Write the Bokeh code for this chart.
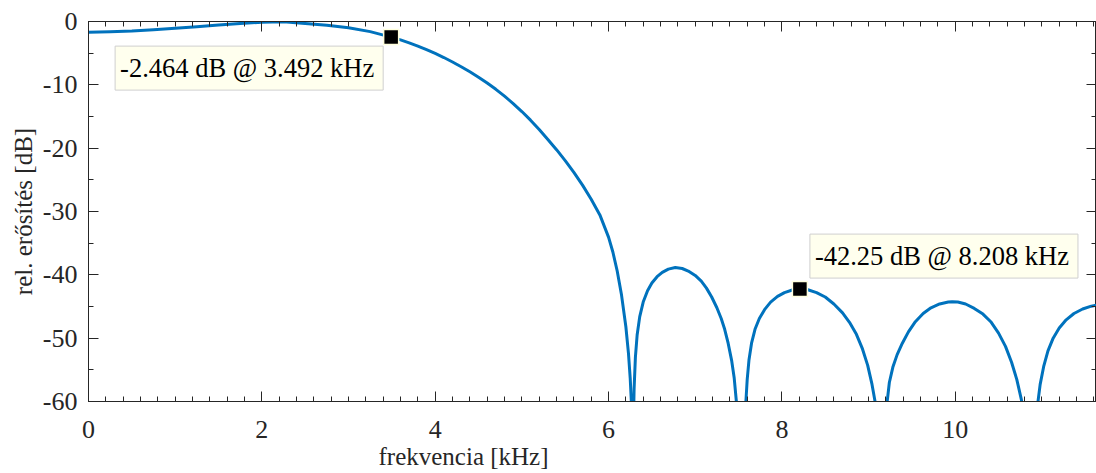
from bokeh.plotting import figure
from bokeh.models import (LinearAxis, SingleIntervalTicker, Label, Title,
                          ColumnDataSource, Range1d, PrintfTickFormatter,
                          CustomJSTickFormatter)
from bokeh.embed import file_html
from bokeh.resources import INLINE

# frequency [kHz] and relative gain [dB]
pass_f = [0.0, 0.25, 0.5, 0.75, 1.0, 1.25, 1.5, 1.75, 2.0, 2.25, 2.5, 2.75,
          3.0, 3.25, 3.492]
pass_db = [-1.70, -1.62, -1.50, -1.30, -1.08, -0.82, -0.55, -0.30, -0.12,
           -0.05, -0.30, -0.60, -1.00, -1.60, -2.464]

trans_f = [3.6, 3.7, 3.8, 3.9, 4.0, 4.1, 4.2, 4.3, 4.4, 4.5, 4.6, 4.7, 4.8,
           4.9, 5.0, 5.1, 5.2, 5.3, 5.4, 5.5, 5.6, 5.7, 5.8, 5.9, 6.0, 6.05,
           6.1, 6.15, 6.2, 6.23, 6.25, 6.265, 6.275]
trans_db = [-2.91, -3.37, -3.88, -4.44, -5.04, -5.69, -6.39, -7.14, -7.94,
            -8.79, -9.71, -10.71, -11.79, -12.96, -14.22, -15.58, -17.05,
            -18.64, -20.24, -21.96, -23.82, -25.84, -28.06, -30.54, -34.04,
            -36.40, -39.40, -43.20, -48.20, -52.40, -56.30, -60.50, -75.00]

lobe1_f = [6.285, 6.295, 6.31, 6.33, 6.36, 6.40, 6.45, 6.50, 6.56, 6.62,
           6.69, 6.77, 6.85, 6.92, 7.0, 7.07, 7.13, 7.19, 7.25, 7.30, 7.34,
           7.38, 7.42, 7.45, 7.475, 7.53]
lobe1_db = [-65.0, -58.0, -53.0, -49.5, -46.6, -44.3, -42.5, -41.3, -40.3,
            -39.6, -39.1, -38.85, -39.0, -39.4, -40.1, -41.0, -42.1, -43.5,
            -45.2, -46.9, -48.6, -50.8, -53.5, -56.3, -60.0, -80.0]

lobe2_f = [7.585, 7.60, 7.62, 7.65, 7.69, 7.74, 7.80, 7.87, 7.95, 8.03, 8.12,
           8.208, 8.30, 8.40, 8.50, 8.60, 8.70, 8.78, 8.86, 8.93, 8.99, 9.04,
           9.075, 9.145]
lobe2_db = [-60.0, -56.5, -53.5, -50.8, -48.6, -46.9, -45.5, -44.3, -43.4,
            -42.8, -42.4, -42.25, -42.35, -42.8, -43.5, -44.6, -46.0, -47.5,
            -49.4, -51.7, -54.3, -57.3, -60.0, -80.0]

lobe3_f = [9.215, 9.24, 9.28, 9.33, 9.39, 9.46, 9.54, 9.63, 9.72, 9.82, 9.92,
           9.965, 10.03, 10.12, 10.22, 10.32, 10.41, 10.50, 10.58, 10.65,
           10.71, 10.76, 10.775, 10.865]
lobe3_db = [-60.0, -57.0, -54.6, -52.6, -50.8, -49.0, -47.4, -46.1, -45.2,
            -44.6, -44.3, -44.25, -44.3, -44.6, -45.3, -46.2, -47.4, -49.2,
            -51.3, -53.8, -56.5, -59.5, -60.5, -80.0]

lobe4_f = [10.955, 10.98, 11.02, 11.07, 11.13, 11.20, 11.28, 11.37, 11.47,
           11.57, 11.67, 11.75]
lobe4_db = [-60.0, -57.3, -54.5, -52.0, -50.0, -48.4, -47.1, -46.1, -45.4,
            -44.95, -44.7, -44.6]

freq_khz = pass_f + trans_f + lobe1_f + lobe2_f + lobe3_f + lobe4_f
gain_db = pass_db + trans_db + lobe1_db + lobe2_db + lobe3_db + lobe4_db

# data tips
tip_freq = [3.492, 8.208]
tip_gain = [-2.464, -42.25]
tip_text = ["-2.464 dB @ 3.492 kHz", "-42.25 dB @ 8.208 kHz"]

x_ticks_interval = 2
y_ticks_interval = 10

FONT = "Liberation Serif"
AX = "#262626"
BLUE = "#0072BD"

p = figure(width=1096, height=473, output_backend="svg",
           toolbar_location=None,
           x_range=Range1d(0, 11.63), y_range=Range1d(-60, 0),
           min_border_left=88, min_border_top=21, min_border_bottom=72,
           min_border_right=0, x_axis_location=None, y_axis_location=None)
p.xgrid.visible = False
p.ygrid.visible = False
p.outline_line_color = AX
p.outline_line_width = 1
p.background_fill_color = "white"
p.border_fill_color = "white"

blank = CustomJSTickFormatter(code="return '';")


def style_axis(ax, ticker, labels=True, standoff=10):
    ax.ticker = ticker
    ax.axis_line_color = AX
    ax.major_tick_line_color = AX
    ax.minor_tick_line_color = AX
    ax.major_tick_in = 10
    ax.major_tick_out = 0
    ax.minor_tick_in = 5
    ax.minor_tick_out = 0
    ax.major_label_text_font = FONT
    ax.major_label_text_font_size = "26px"
    ax.major_label_text_color = AX
    ax.major_label_standoff = standoff
    if labels:
        ax.formatter = PrintfTickFormatter(format="%d")
    else:
        ax.formatter = blank
        ax.major_label_standoff = 0


xb = LinearAxis()
style_axis(xb, SingleIntervalTicker(interval=x_ticks_interval, num_minor_ticks=10), standoff=19)
p.add_layout(xb, "below")
xt = LinearAxis()
style_axis(xt, SingleIntervalTicker(interval=x_ticks_interval, num_minor_ticks=10), labels=False)
p.add_layout(xt, "above")

yl = LinearAxis(axis_label="rel. erősítés [dB]")
style_axis(yl, SingleIntervalTicker(interval=y_ticks_interval, num_minor_ticks=2), standoff=11)
yl.axis_label_text_font = FONT
yl.axis_label_text_font_size = "25px"
yl.axis_label_text_font_style = "normal"
yl.axis_label_text_color = AX
yl.axis_label_standoff = 3
p.add_layout(yl, "left")
yr = LinearAxis()
style_axis(yr, SingleIntervalTicker(interval=y_ticks_interval, num_minor_ticks=2), labels=False)
p.add_layout(yr, "right")

xlabel = Title(text="frekvencia [kHz]", align="left", offset=290,
               text_font=FONT, text_font_size="25px", text_font_style="normal",
               text_color=AX, standoff=1)
p.add_layout(xlabel, "below")

src = ColumnDataSource(dict(x=freq_khz, y=gain_db))
p.line("x", "y", source=src, line_color=BLUE, line_width=3,
       line_join="round")

tips = ColumnDataSource(dict(x=tip_freq, y=tip_gain))
p.scatter("x", "y", source=tips, marker="square", size=15, fill_color="black",
          line_color="#FFFFDD", line_width=1.5)

pad = dict(left=5, right=9, top=7, bottom=7)
lab1 = Label(x=tip_freq[0], y=tip_gain[0], text=tip_text[0], text_align="right",
             text_baseline="top", x_offset=-8, y_offset=-9, text_font=FONT,
             text_font_size="26.5px", text_color="black",
             background_fill_color="#FFFFEE", border_line_color="#CFCFCF",
             padding=pad)
lab2 = Label(x=tip_freq[1], y=tip_gain[1], text=tip_text[1], text_align="left",
             text_baseline="bottom", x_offset=10, y_offset=11, text_font=FONT,
             text_font_size="26.5px", text_color="black",
             background_fill_color="#FFFFEE", border_line_color="#CFCFCF",
             padding=pad)
p.add_layout(lab1)
p.add_layout(lab2)

open("out.html", "w").write(file_html(p, INLINE))
